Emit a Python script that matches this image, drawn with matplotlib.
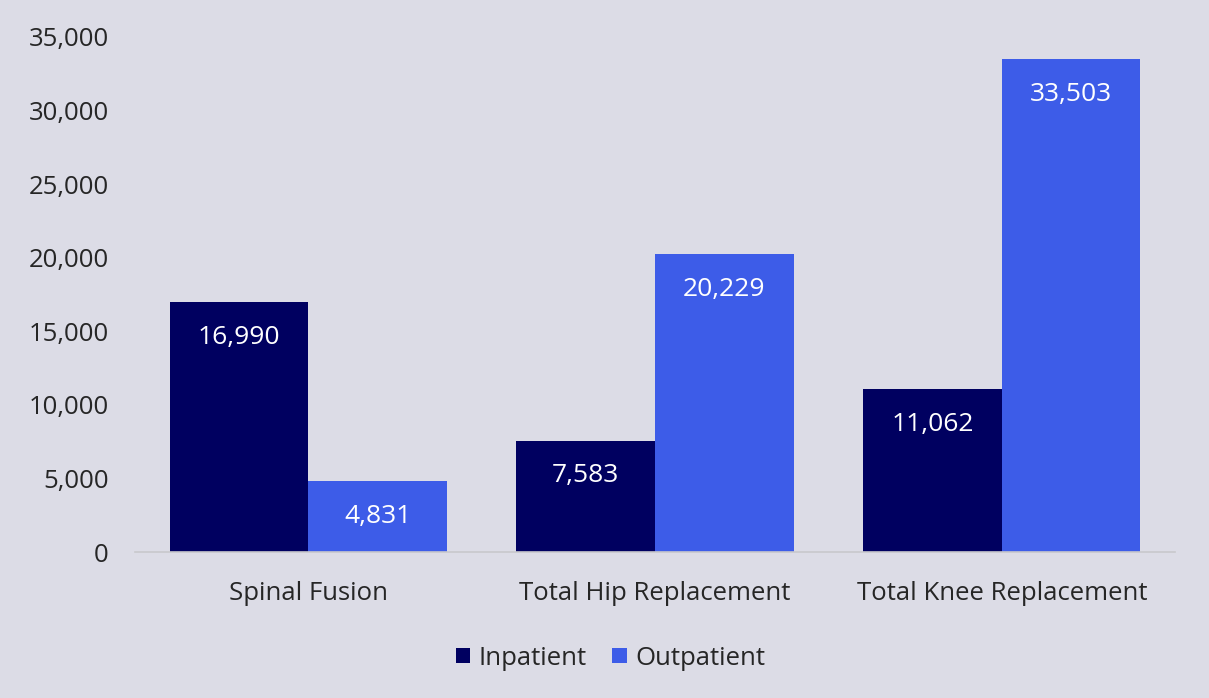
import numpy as np
import matplotlib.pyplot as plt

categories = ["Spinal Fusion", "Total Hip Replacement", "Total Knee Replacement"]
inpatient = [16990, 7583, 11062]
outpatient = [4831, 20229, 33503]
yticks = [0, 5000, 10000, 15000, 20000, 25000, 30000, 35000]

bg = "#dcdce6"
dark = "#000060"
light = "#3d5ce8"

plt.rcParams['font.family'] = ['Open Sans', 'DejaVu Sans']

fig = plt.figure(figsize=(12.09, 6.98), dpi=100, facecolor=bg)
ax = fig.add_axes([0.1117, 0.209, 0.8603, 0.738])
ax.set_facecolor(bg)

x = np.arange(len(categories))
w = 0.4
b1 = ax.bar(x - w/2, inpatient, w, color=dark, label="Inpatient")
b2 = ax.bar(x + w/2, outpatient, w, color=light, label="Outpatient")

# labels inside bars, near the top
for bars, vals in [(b1, inpatient), (b2, outpatient)]:
    for r, v in zip(bars, vals):
        ax.annotate(f"{v:,}", (r.get_x() + r.get_width()/2, v),
                    xytext=(0, -35), textcoords="offset pixels",
                    ha="center", va="center", color="white", fontsize=19)

ax.set_xlim(-0.5, 2.5)
ax.set_ylim(0, 35000)
ax.set_yticks(yticks)
ax.set_yticklabels([f"{t:,}" for t in yticks])
ax.set_xticks(x)
ax.set_xticklabels(categories)
ax.tick_params(axis='y', length=0, pad=19, labelsize=18.5, colors="#262626")
ax.tick_params(axis='x', length=0, pad=21, labelsize=18.5, colors="#262626")

for s in ["top", "right", "left"]:
    ax.spines[s].set_visible(False)
ax.spines["bottom"].set_color("#c8c8cc")
ax.spines["bottom"].set_linewidth(1.2)

leg = fig.legend(handles=[b1, b2], loc="center", bbox_to_anchor=(0.505, 0.057),
                 ncol=2, frameon=False, fontsize=18.5, handlelength=0.55, handleheight=0.55,
                 handletextpad=0.35, columnspacing=1.0)
for t in leg.get_texts():
    t.set_color("#262626")

fig.savefig("out.png", dpi=100, facecolor=bg)
